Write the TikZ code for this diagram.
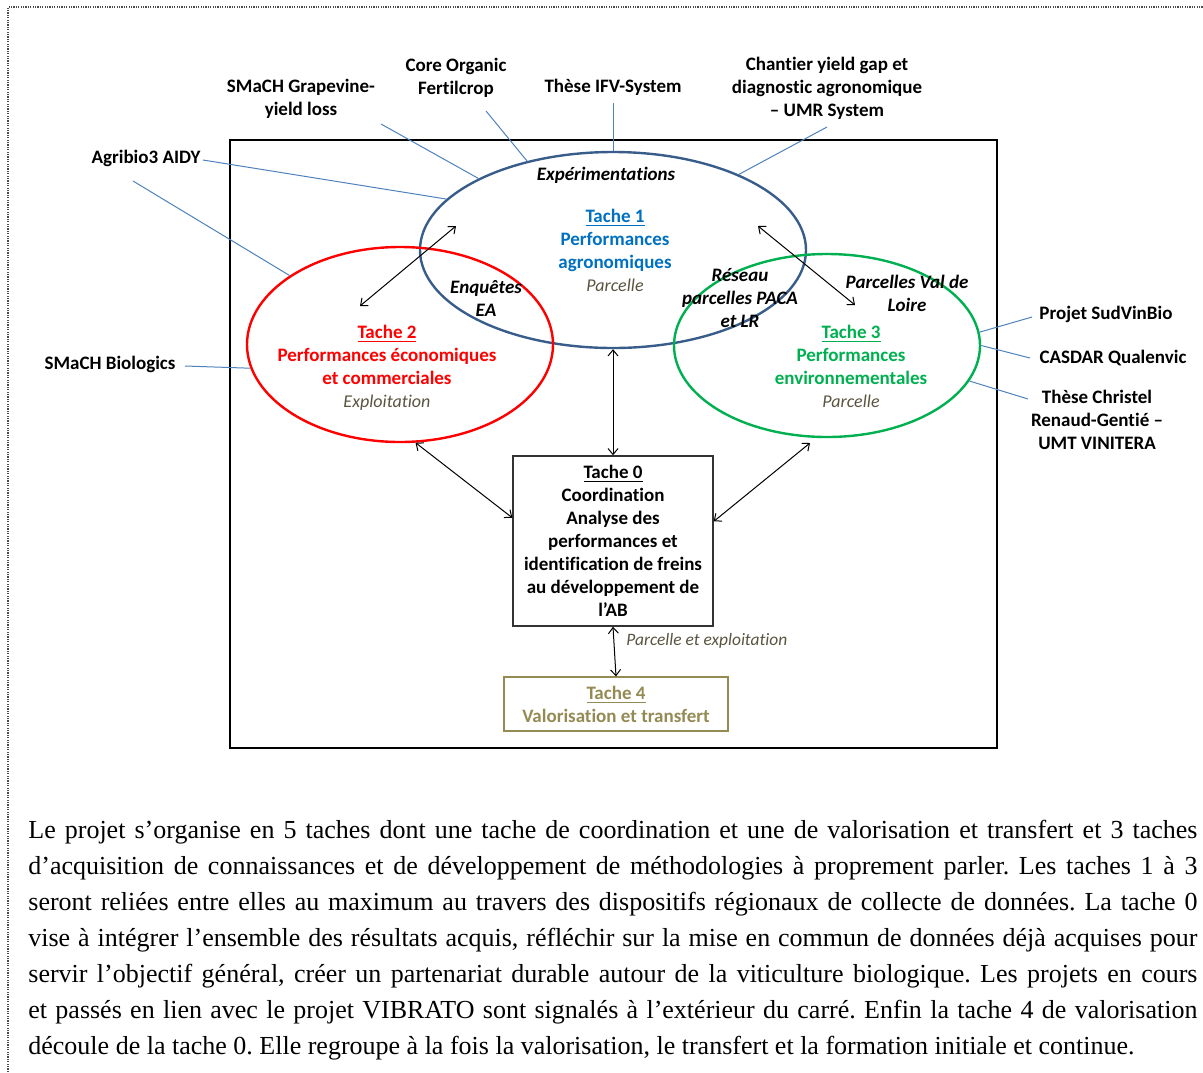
\documentclass[tikz,border=0pt]{standalone}
\usepackage{fontspec}
\setmainfont{Liberation Serif}
\newfontfamily\diagfont[Ligatures=NoCommon]{Carlito}
\usetikzlibrary{shapes.geometric,arrows.meta,positioning}
\definecolor{ellblue}{RGB}{56,93,138}
\definecolor{linkblue}{RGB}{79,129,189}
\definecolor{t1blue}{RGB}{0,112,192}
\definecolor{t3green}{RGB}{0,176,80}
\definecolor{olive}{RGB}{148,138,84}
\definecolor{notegrey}{RGB}{89,84,64}
\newcommand\echelle[1]{{\mdseries\itshape\fontsize{9}{11}\selectfont\color{notegrey}#1}}
\tikzstyle{ell} = [ellipse, draw, line width=1.2pt, inner sep=0pt]
\tikzstyle{lbl} = [font=\diagfont\fontsize{9.5}{11.5}\selectfont\bfseries, align=center, inner sep=1pt]
\tikzstyle{dispo} = [lbl, font=\diagfont\fontsize{9.5}{11.5}\selectfont\bfseries\itshape]
\tikzstyle{note} = [font=\diagfont\fontsize{8.7}{11}\selectfont\itshape, text=notegrey, inner sep=1pt]
\tikzstyle{link} = [draw=linkblue, line width=0.5pt]
\tikzstyle{dbl} = [<->, >={Straight Barb[length=3pt,width=5pt]}, line width=0.5pt]

\begin{document}
\begin{tikzpicture}[x=0.5pt, y=-0.5pt]
    \useasboundingbox (0,0) rectangle (1203,1072);
    % cadre pointille
    \draw[black!70, line width=0.6pt, dash pattern=on 0.6pt off 0.6pt] (8,1072) -- (8,7) -- (1203,7);
    % carre
    \draw[line width=1pt] (230,140) rectangle (997,748);

    % taches 1 a 3
    \node[ell, draw=ellblue, minimum width=193pt, minimum height=98pt] (t1) at (613,250) {};
    \node[ell, draw=red, minimum width=153pt, minimum height=97.5pt] (t2) at (400,344.5) {};
    \node[ell, draw=t3green, minimum width=153pt, minimum height=91.5pt] (t3) at (827,345.5) {};

    \node[lbl, text=t1blue] (t1txt) at (615,250) {\underline{Tache 1}\\Performances\\agronomiques\\\echelle{Parcelle}};
    \node[lbl, text=red] (t2txt) at (387,367.5) {\underline{Tache 2}\\Performances économiques\\et commerciales\\\echelle{Exploitation}};
    \node[lbl, text=t3green] (t3txt) at (851,366) {\underline{Tache 3}\\Performances\\environnementales\\\echelle{Parcelle}};

    % dispositifs
    \node[dispo] (exp) at (606,175) {Expérimentations};
    \node[dispo] (enq) at (486,298.5) {Enquêtes\\EA};
    \node[dispo] (reseau) at (740,298) {Réseau\\parcelles PACA\\et LR};
    \node[dispo] (loire) at (907,293.5) {Parcelles Val de\\Loire};

    % taches 0 et 4
    \node[lbl, draw=black!80, line width=0.7pt, minimum width=100pt, minimum height=85pt] (tache0) at (613,541)
        {\underline{Tache 0}\\Coordination\\Analyse des\\performances et\\identification de freins\\au développement de\\l’AB};
    \node[lbl, draw=olive, text=olive, line width=0.6pt, minimum width=112pt, minimum height=27pt] (tache4) at (616,704)
        {\underline{Tache 4}\\Valorisation et transfert};
    \node[note, anchor=west] (parcexp) at (624,641) {Parcelle et exploitation};

    % liens entre taches
    \coordinate (t1a) at (456,226);
    \coordinate (t2a) at (360,306);
    \coordinate (t1b) at (758,226);
    \coordinate (t3a) at (855,305);
    \coordinate (t3b) at (810,443);
    \draw[dbl] (t1a) -- (t2a);
    \draw[dbl] (t1b) -- (t3a);
    \draw[dbl] (t1.south) -- (tache0.north);
    \draw[dbl] (t2.279) -- (tache0.167);
    \draw[dbl] (t3b) -- (tache0.11);
    \draw[dbl] (tache0.south) -- (tache4.north);

    % projets exterieurs
    \node[lbl] (agribio) at (146,158) {Agribio3 AIDY};
    \node[lbl] (smachgv) at (301,99) {SMaCH Grapevine-\\yield loss};
    \node[lbl] (core) at (456,77.5) {Core Organic\\Fertilcrop};
    \node[lbl] (ifv) at (613,87) {Thèse IFV-System};
    \node[lbl] (chantier) at (827,88.5) {Chantier yield gap et\\diagnostic agronomique\\– UMR System};
    \node[lbl] (smachbio) at (110,364) {SMaCH Biologics};
    \node[lbl, anchor=west] (sudvinbio) at (1037,314) {Projet SudVinBio};
    \node[lbl] (casdar) at (1113,358) {CASDAR Qualenvic};
    \node[lbl] (christel) at (1097,419.5) {Thèse Christel\\Renaud-Gentié –\\UMT VINITERA};

    \coordinate (agribio1) at (203,160);
    \coordinate (agribio2) at (133,181);
    \coordinate (smachgv1) at (381,124);
    \coordinate (core1) at (486,111);
    \coordinate (ifv1) at (613,103);
    \coordinate (chantier1) at (827,127);
    \coordinate (smachbio1) at (185,366);
    \coordinate (sudvinbio1) at (1032,317);
    \coordinate (casdar1) at (1030,358);
    \coordinate (christel1) at (1028,399);
    \draw[link] (agribio1) -- (t1.163);
    \draw[link] (agribio2) -- (t2.148);
    \draw[link] (smachgv1) -- (t1.152);
    \draw[link] (core1) -- (t1.134);
    \draw[link] (ifv1) -- (t1.north);
    \draw[link] (chantier1) -- (t1.31);
    \draw[link] (smachbio1) -- (t2.189);
    \draw[link] (sudvinbio1) -- (t3.5);
    \draw[link] (casdar1) -- (t3.0);
    \draw[link] (christel1) -- (t3.346);

    % texte
    \node[anchor=north west, text width=584.5pt, align=justify, inner sep=0pt,
          font=\fontsize{13}{18}\selectfont] (texte) at (28,820)
    {\frenchspacing\hyphenpenalty=10000\exhyphenpenalty=10000\tolerance=10000
     Le projet s’organise en 5 taches dont une tache de coordination et une de valorisation et transfert et 3 taches\linebreak
     d’acquisition de connaissances et de développement de méthodologies à proprement parler. Les taches 1 à 3\linebreak
     seront reliées entre elles au maximum au travers des dispositifs régionaux de collecte de données. La tache 0\linebreak
     vise à intégrer l’ensemble des résultats acquis, réfléchir sur la mise en commun de données déjà acquises pour\linebreak
     servir l’objectif général, créer un partenariat durable autour de la viticulture biologique. Les projets en cours\linebreak
     et passés en lien avec le projet VIBRATO sont signalés à l’extérieur du carré. Enfin la tache 4 de valorisation\linebreak
     découle de la tache 0. Elle regroupe à la fois la valorisation, le transfert et la formation initiale et continue.};
\end{tikzpicture}
\end{document}
